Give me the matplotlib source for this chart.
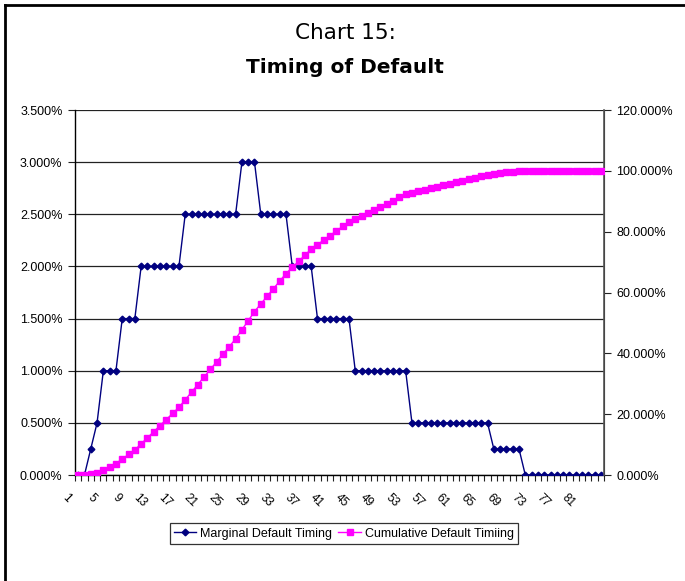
import matplotlib
matplotlib.use("Agg")
import matplotlib.pyplot as plt
from matplotlib.lines import Line2D
from matplotlib.ticker import FuncFormatter, FixedLocator
from matplotlib.transforms import ScaledTranslation

plt.rcParams['font.family'] = ['Liberation Sans', 'DejaVu Sans']

months = list(range(1, 85))
marginal = [0.0, 0.0, 0.25, 0.5,
            1.0, 1.0, 1.0,
            1.5, 1.5, 1.5,
            2.0, 2.0, 2.0, 2.0, 2.0, 2.0, 2.0,
            2.5, 2.5, 2.5, 2.5, 2.5, 2.5, 2.5, 2.5, 2.5,
            3.0, 3.0, 3.0,
            2.5, 2.5, 2.5, 2.5, 2.5,
            2.0, 2.0, 2.0, 2.0,
            1.5, 1.5, 1.5, 1.5, 1.5, 1.5,
            1.0, 1.0, 1.0, 1.0, 1.0, 1.0, 1.0, 1.0, 1.0,
            0.5, 0.5, 0.5, 0.5, 0.5, 0.5, 0.5, 0.5, 0.5, 0.5, 0.5, 0.5, 0.5,
            0.25, 0.25, 0.25, 0.25, 0.25,
            0.0, 0.0, 0.0, 0.0, 0.0, 0.0, 0.0, 0.0, 0.0, 0.0, 0.0, 0.0, 0.0]
cumulative = [0.0, 0.0, 0.25, 0.75, 1.75, 2.75, 3.75, 5.25, 6.75, 8.25,
              10.25, 12.25, 14.25, 16.25, 18.25, 20.25, 22.25,
              24.75, 27.25, 29.75, 32.25, 34.75, 37.25, 39.75, 42.25, 44.75,
              47.75, 50.75, 53.75,
              56.25, 58.75, 61.25, 63.75, 66.25,
              68.25, 70.25, 72.25, 74.25,
              75.75, 77.25, 78.75, 80.25, 81.75, 83.25,
              84.25, 85.25, 86.25, 87.25, 88.25, 89.25, 90.25, 91.25, 92.25,
              92.75, 93.25, 93.75, 94.25, 94.75, 95.25, 95.75, 96.25, 96.75,
              97.25, 97.75, 98.25, 98.75,
              99.0, 99.25, 99.5, 99.75, 100.0,
              100.0, 100.0, 100.0, 100.0, 100.0, 100.0, 100.0, 100.0, 100.0,
              100.0, 100.0, 100.0, 100.0]
x_labels = [str(m) for m in months[::4]]
left_ticks = [0.0, 0.5, 1.0, 1.5, 2.0, 2.5, 3.0, 3.5]
right_ticks = [0, 20, 40, 60, 80, 100, 120]

fig = plt.figure(figsize=(6.85, 5.81), dpi=100)
ax = fig.add_axes([0.1095, 0.1824, 0.7723, 0.6282])
ax2 = ax.twinx()

ax.plot(months, marginal, color='#000080', lw=1.0, marker='D', markersize=3.4,
        label='Marginal Default Timing', zorder=3)
ax2.plot(months, cumulative, color='#FF00FF', lw=1.0, marker='s', markersize=3.9,
         label='Cumulative Default Timiing', zorder=3)

ax.set_xlim(0.5, 84.5)
ax.set_ylim(0, 3.5)
ax2.set_ylim(0, 120)

ax.yaxis.set_major_locator(FixedLocator(left_ticks))
ax2.yaxis.set_major_locator(FixedLocator(right_ticks))
ax.yaxis.set_major_formatter(FuncFormatter(lambda v, p: f"{v:.3f}%"))
ax2.yaxis.set_major_formatter(FuncFormatter(lambda v, p: f"{v:.3f}%"))
ax.grid(axis='y', color='#222222', lw=0.9, zorder=0)
ax.set_axisbelow(True)

ax.set_xticks(months[::4])
ax.set_xticklabels(x_labels, rotation=-45, ha='right', va='top')
ax.set_xticks([m + 0.5 for m in range(0, 85)], minor=True)
ax.tick_params(axis='x', which='major', length=0, pad=12, labelsize=8.5)
ax.tick_params(axis='x', which='minor', length=4, width=0.8, direction='out', color='#222222')
ax.tick_params(axis='y', length=5, width=0.8, labelsize=9, pad=4, color='#222222')
ax2.tick_params(axis='y', length=5, width=0.8, labelsize=9, pad=4, color='#222222')
shift = ScaledTranslation(-3.5 / 72, 0, fig.dpi_scale_trans)
for lab in ax.get_xticklabels():
    lab.set_transform(lab.get_transform() + shift)

for a in (ax, ax2):
    a.spines['top'].set_visible(False)
ax.spines['left'].set_color('#000000')
ax.spines['bottom'].set_color('#000000')
ax2.spines['right'].set_color('#555555')
ax2.spines['left'].set_visible(False)
ax2.spines['bottom'].set_visible(False)
for s in ('left', 'bottom'):
    ax.spines[s].set_linewidth(1.0)
ax2.spines['right'].set_linewidth(1.2)

fig.text(0.504, 0.943, 'Chart 15:', ha='center', va='center', fontsize=15.5,
         family=['DejaVu Sans'])
fig.text(0.504, 0.884, 'Timing of Default', ha='center', va='center', fontsize=14.5,
         fontweight='bold', family=['DejaVu Sans'])

h1, l1 = ax.get_legend_handles_labels()
h2, l2 = ax2.get_legend_handles_labels()
leg = fig.legend(h1 + h2, l1 + l2, loc='center', bbox_to_anchor=(0.502, 0.0815), ncol=2,
                 fontsize=9, frameon=True, fancybox=False, edgecolor='#000000',
                 handlelength=1.8, handletextpad=0.3, columnspacing=0.5,
                 borderpad=0.35, borderaxespad=0)
leg.get_frame().set_linewidth(0.9)

fig.add_artist(Line2D([5 / 685, 1.0], [1 - 5 / 581, 1 - 5 / 581], color='black', lw=2,
                      transform=fig.transFigure))
fig.add_artist(Line2D([5 / 685, 5 / 685], [0.0, 1 - 5 / 581], color='black', lw=2,
                      transform=fig.transFigure))

fig.savefig('out.png', dpi=100)
